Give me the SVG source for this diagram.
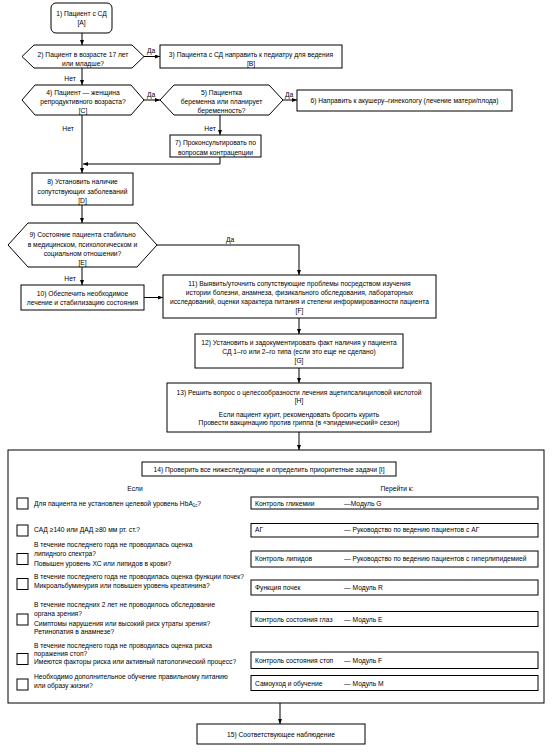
<svg xmlns="http://www.w3.org/2000/svg" width="555" height="752" viewBox="0 0 555 752">
<defs>
<style>
.n{fill:#fff;stroke:#000;stroke-width:1}
.t{font-family:"Liberation Sans",Arial,sans-serif;font-size:7.2px;fill:#000}
.m{text-anchor:middle}
.e{fill:none;stroke:#000;stroke-width:1}
.a{marker-end:url(#ah)}
</style>
<marker id="ah" markerUnits="userSpaceOnUse" markerWidth="6" markerHeight="6" refX="5" refY="2" orient="auto"><path d="M0,0 L5,2 L0,4 z" fill="#000"/></marker>
</defs>
<rect width="555" height="752" fill="#fff"/>
<g id="connectors">
<path class="e a" d="M82,33 V45"/>
<path class="e a" d="M144,56.5 H160"/>
<path class="e a" d="M82,68 V85"/>
<path class="e a" d="M144,100 H160"/>
<path class="e a" d="M283,100 H297"/>
<path class="e a" d="M82,115 V173"/>
<path class="e a" d="M220,115 V135"/>
<path class="e a" d="M220,157 V164 H83"/>
<path class="e a" d="M82,205 V223"/>
<path class="e a" d="M157,245 H299 V275"/>
<path class="e a" d="M82,267 V285"/>
<path class="e a" d="M144,297.5 H163"/>
<path class="e a" d="M299,318 V334"/>
<path class="e a" d="M299,368 V383"/>
<path class="e a" d="M299,432 V450"/>
<path class="e a" d="M280,703 V724"/>
<g class="t m">
<text transform="matrix(.93 0 0 1 151 53)">Да</text>
<text transform="matrix(.93 0 0 1 70 80.5)">Нет</text>
<text transform="matrix(.93 0 0 1 151 97)">Да</text>
<text transform="matrix(.93 0 0 1 289 97)">Да</text>
<text transform="matrix(.93 0 0 1 68 130.5)">Нет</text>
<text transform="matrix(.93 0 0 1 210 130.5)">Нет</text>
<text transform="matrix(.93 0 0 1 230 241.5)">Да</text>
<text transform="matrix(.93 0 0 1 70 280.5)">Нет</text>
</g>
</g>
<g id="n1">
<rect class="n" x="51" y="3" width="61" height="30" rx="5"/>
<g class="t m"><text transform="matrix(.93 0 0 1 81.5 15.5)">1) Пациент с СД</text><text transform="matrix(.93 0 0 1 81.5 24.5)">[A]</text></g>
</g>
<g id="n2">
<polygon class="n" points="22,56.5 34,45 132,45 144,56.5 132,68 34,68"/>
<g class="t m"><text transform="matrix(.93 0 0 1 83 56.5)">2) Пациент в возрасте 17 лет</text><text transform="matrix(.93 0 0 1 83 65.5)">или младше?</text></g>
</g>
<g id="n3">
<rect class="n" x="160" y="45" width="182" height="23"/>
<g class="t m"><text transform="matrix(.93 0 0 1 251 56.5)">3)  Пациента с СД направить к педиатру для ведения</text><text transform="matrix(.93 0 0 1 251 65.5)">[B]</text></g>
</g>
<g id="n4">
<polygon class="n" points="22,100 35,85 131,85 144,100 131,115 35,115"/>
<g class="t m"><text transform="matrix(.93 0 0 1 83 94.5)">4) Пациент — женщина</text><text transform="matrix(.93 0 0 1 83 103.5)">репродуктивного возраста?</text><text transform="matrix(.93 0 0 1 83 112.5)">[C]</text></g>
</g>
<g id="n5">
<polygon class="n" points="160,100 174,85 269,85 283,100 269,115 174,115"/>
<g class="t m"><text transform="matrix(.93 0 0 1 221.5 94.5)">5) Пациентка</text><text transform="matrix(.93 0 0 1 221.5 103.5)">беременна или планирует</text><text transform="matrix(.93 0 0 1 221.5 112.5)">беременность?</text></g>
</g>
<g id="n6">
<rect class="n" x="297" y="90" width="215" height="21"/>
<text class="t m" transform="matrix(.93 0 0 1 404.5 103)">6) Направить к акушеру–гинекологу (лечение матери/плода)</text>
</g>
<g id="n7">
<rect class="n" x="170" y="135" width="91" height="22"/>
<g class="t m"><text transform="matrix(.93 0 0 1 215.5 145)">7) Проконсультировать по</text><text transform="matrix(.93 0 0 1 215.5 154.5)">вопросам контрацепции</text></g>
</g>
<g id="n8">
<rect class="n" x="32" y="173" width="101" height="32"/>
<g class="t m"><text transform="matrix(.93 0 0 1 82.5 183.5)">8) Установить наличие</text><text transform="matrix(.93 0 0 1 82.5 193.5)">сопутствующих заболеваний</text><text transform="matrix(.93 0 0 1 82.5 202.5)">[D]</text></g>
</g>
<g id="n9">
<polygon class="n" points="8,245 28,223 137,223 157,245 137,267 28,267"/>
<g class="t m"><text transform="matrix(.93 0 0 1 82.5 236.5)">9) Состояние пациента стабильно</text><text transform="matrix(.93 0 0 1 82.5 246.5)">в медицинском, психологическом и</text><text transform="matrix(.93 0 0 1 82.5 255.5)">социальном отношении?</text><text transform="matrix(.93 0 0 1 82.5 264.5)">[E]</text></g>
</g>
<g id="n10">
<rect class="n" x="21" y="285" width="123" height="25"/>
<g class="t m"><text transform="matrix(.93 0 0 1 82.5 296)">10) Обеспечить необходимое</text><text transform="matrix(.93 0 0 1 82.5 305)">лечение и стабилизацию состояния</text></g>
</g>
<g id="n11">
<rect class="n" x="163" y="275" width="273" height="43"/>
<g class="t m"><text transform="matrix(.93 0 0 1 299.5 285.8)">11) Выявить/уточнить сопутствующие проблемы посредством изучения</text><text transform="matrix(.93 0 0 1 299.5 294.5)">истории болезни, анамнеза, физикального обследования, лабораторных</text><text transform="matrix(.93 0 0 1 299.5 303.8)">исследований, оценки характера питания и степени информированности пациента</text><text transform="matrix(.93 0 0 1 299.5 313)">[F]</text></g>
</g>
<g id="n12">
<rect class="n" x="195" y="334" width="208" height="34"/>
<g class="t m"><text transform="matrix(.93 0 0 1 299 344.8)">12) Установить и задокументировать факт наличия у пациента</text><text transform="matrix(.93 0 0 1 299 353.8)">СД 1–го или 2–го типа (если это еще не сделано)</text><text transform="matrix(.93 0 0 1 299 362.5)">[G]</text></g>
</g>
<g id="n13">
<rect class="n" x="167" y="383" width="264" height="49"/>
<g class="t m"><text transform="matrix(.93 0 0 1 299 395)">13) Решить вопрос о целесообразности лечения ацетилсалициловой кислотой</text><text transform="matrix(.93 0 0 1 299 403.3)">[H]</text><text transform="matrix(.93 0 0 1 299 416.7)">Если пациент курит, рекомендовать бросить курить</text><text transform="matrix(.93 0 0 1 299 424.7)">Провести вакцинацию против гриппа (в «эпидемический» сезон)</text></g>
</g>
<g id="n14">
<rect class="n" x="8" y="450" width="536" height="253"/>
<rect class="n" x="142" y="462" width="254" height="14"/>
<g class="t m">
<text transform="matrix(.93 0 0 1 269 471.5)">14) Проверить все нижеследующие и определить приоритетные задачи [I]</text>
<text transform="matrix(.93 0 0 1 135 491)">Если</text>
<text transform="matrix(.93 0 0 1 397 491)">Перейти к:</text>
</g>
<g class="n">
<rect x="17" y="498" width="11" height="11"/>
<rect x="17" y="525" width="11" height="11"/>
<rect x="17" y="553.5" width="11" height="11"/>
<rect x="17" y="578.5" width="11" height="11"/>
<rect x="17" y="614" width="11" height="11"/>
<rect x="17" y="653.5" width="11" height="11"/>
<rect x="17" y="679" width="11" height="11"/>
<rect x="251" y="497" width="287" height="12"/>
<rect x="251" y="523.5" width="287" height="13.5"/>
<rect x="251" y="551" width="287" height="16"/>
<rect x="251" y="580" width="287" height="15"/>
<rect x="251" y="611.5" width="287" height="15"/>
<rect x="251" y="652" width="287" height="16.5"/>
<rect x="251" y="675.5" width="287" height="15"/>
</g>
<g class="t" transform="matrix(.93 0 0 1 34 0)">
<text y="506">Для пациента не установлен целевой уровень HbA<tspan font-size="4.5" dy="1.5">1c</tspan><tspan dy="-1.5">?</tspan></text>
<text y="532.5">САД ≥140 или ДАД ≥80 мм рт. ст.?</text>
<text y="547.5">В течение последнего года не проводилась оценка</text>
<text y="556.5">липидного спектра?</text>
<text y="566">Повышен уровень ХС или липидов в крови?</text>
<text y="579">В течение последнего года не проводилась оценка функции почек?</text>
<text y="588">Микроальбуминурия или повышен уровень креатинина?</text>
<text y="607.5">В течение последних 2 лет не проводилось обследование</text>
<text y="616.5">органа зрения?</text>
<text y="626">Симптомы нарушения или высокий риск утраты зрения?</text>
<text y="634.5">Ретинопатия в анамнезе?</text>
<text y="648">В течение последнего года не проводилась оценка риска</text>
<text y="656">поражения стоп?</text>
<text y="664.5">Имеются факторы риска или активный патологический процесс?</text>
<text y="679.5">Необходимо дополнительное обучение правильному питанию</text>
<text y="688">или образу жизни?</text>
</g>
<g class="t" transform="matrix(.93 0 0 1 255 0)">
<text y="506">Контроль гликемии</text>
<text y="532.5">АГ</text>
<text y="561.5">Контроль липидов</text>
<text y="590">Функция почек</text>
<text y="622">Контроль состояния глаз</text>
<text y="663">Контроль состояния стоп</text>
<text y="686">Самоуход и обучение</text>
</g>
<g class="t" transform="matrix(.93 0 0 1 344 0)">
<text y="506">—Модуль G</text>
<text y="532.5">— Руководство по ведению пациентов с АГ</text>
<text y="561.5">— Руководство по ведению пациентов с гиперлипидемией</text>
<text y="590">— Модуль R</text>
<text y="622">— Модуль E</text>
<text y="663">— Модуль F</text>
<text y="686">— Модуль M</text>
</g>
</g>
<g id="n15">
<rect class="n" x="197" y="724" width="168" height="20"/>
<text class="t m" transform="matrix(.93 0 0 1 281 736.5)">15) Соответствующее наблюдение</text>
</g>
</svg>
